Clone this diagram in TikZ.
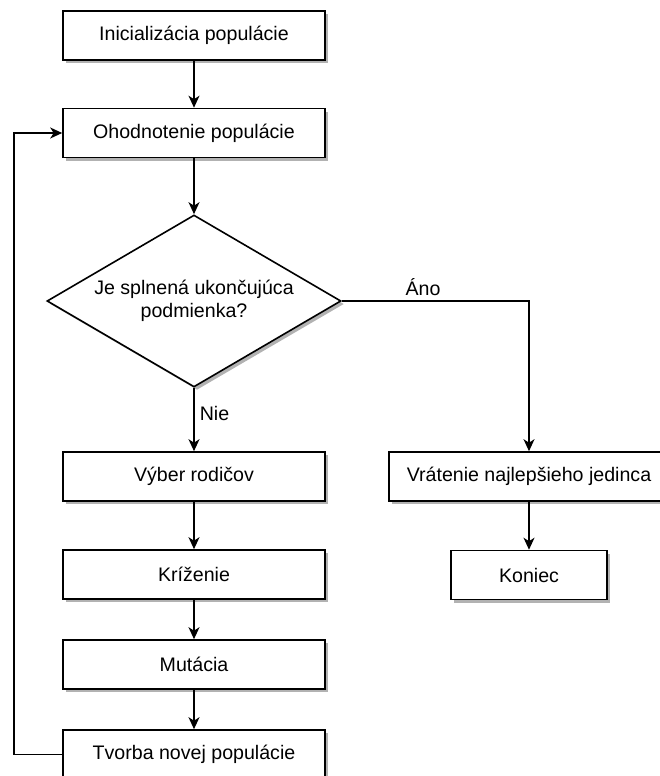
\documentclass[tikz,border=0pt]{standalone}
\usepackage{fontspec}
\setmainfont{Liberation Sans}
\usetikzlibrary{shapes.geometric,arrows.meta,shadows}
\begin{document}
\begin{tikzpicture}[x=1pt,y=-1pt,
  font=\fontsize{19.6}{23}\selectfont,
  shad/.style={drop shadow={shadow xshift=3pt,shadow yshift=-3pt,fill=black!30,opacity=1}},
  stepbox/.style={draw=black,line width=1.6pt,fill=white,shad,minimum width=262pt,minimum height=49pt,inner sep=0pt,align=center},
  decbox/.style={diamond,draw=black,line width=1.6pt,fill=white,shad,minimum width=294pt,minimum height=172pt,aspect=1.71,inner sep=0pt,align=center},
  conn/.style={line width=1.6pt,-{Stealth[length=12pt,width=11pt,inset=3.5pt]}},
  lbl/.style={inner sep=0pt}
]
\useasboundingbox (0,0) rectangle (659,776);
\node[stepbox] (init) at (194,35.5) {Inicializácia populácie};
\node[stepbox] (eval) at (194,133) {Ohodnotenie populácie};
\node[decbox] (dec) at (194,301) {Je splnená ukončujúca\\podmienka?};
\node[stepbox] (sel) at (194,476.5) {Výber rodičov};
\node[stepbox] (cross) at (194,574.5) {Kríženie};
\node[stepbox] (mut) at (194,664.5) {Mutácia};
\node[stepbox] (new) at (194,754.5) {Tvorba novej populácie};
\node[stepbox,minimum width=280pt] (ret) at (529,476.5) {Vrátenie najlepšieho jedinca};
\node[stepbox,minimum width=156pt] (end) at (529,575) {Koniec};
\coordinate (loopB) at (14,754.5);
\coordinate (loopT) at (14,133);
\coordinate (yesC) at (529,301);
\draw[conn] (init) -- (eval);
\draw[conn] (eval) -- (dec);
\draw[conn] (dec.south) -- (sel.north) node[lbl,pos=0.4,right=5pt] (nie) {Nie};
\draw[conn] (dec.east) -- (yesC) -- (ret.north);
\node[lbl] (ano) at (423,287) {Áno};
\draw[conn] (ret) -- (end);
\draw[conn] (sel) -- (cross);
\draw[conn] (cross) -- (mut);
\draw[conn] (mut) -- (new);
\draw[conn] (new.west) -- (loopB) -- (loopT) -- (eval.west);
\end{tikzpicture}
\end{document}
